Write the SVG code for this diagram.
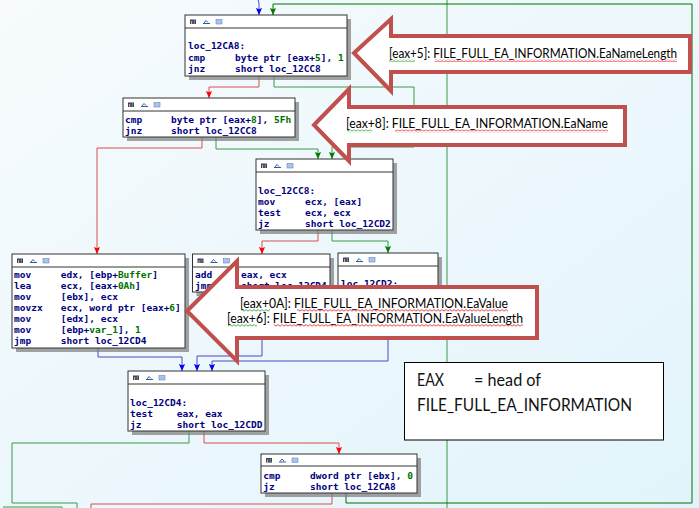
<svg xmlns="http://www.w3.org/2000/svg" width="699" height="508" viewBox="0 0 699 508">
<style>
.sh{fill:#7c7c7c;opacity:.7}
.bx{fill:#fff;stroke:#333;stroke-width:1}
.sep{stroke:#333;stroke-width:1}
.a{font-family:"DejaVu Sans Mono","Liberation Mono",monospace;font-size:9.5px;font-weight:bold;fill:#000080}
.n{fill:#007000}
.e{fill:none;stroke-width:1}
.r{stroke:#d65050}
.g{stroke:#3a9a48}
.b{stroke:#4a4ac0}
.call{fill:#fff;stroke:#c0504d;stroke-width:4;stroke-linejoin:miter}
.ct{font-family:Lato,"Liberation Sans",Arial,sans-serif;font-size:13.5px;fill:#000}
.ct1{font-size:12.6px}
.nt{font-family:Lato,"Liberation Sans",Arial,sans-serif;font-size:17px;fill:#111}
</style>
<defs>
<linearGradient id="bg" x1="0" y1="0" x2="1" y2="1">
<stop offset="0" stop-color="#f7fbfd"/>
<stop offset="1" stop-color="#e2f4fb"/>
</linearGradient>
<marker id="mr" viewBox="0 0 8 8" refX="8" refY="4" markerWidth="8" markerHeight="7" markerUnits="userSpaceOnUse" orient="auto"><path d="M0,0.5 L8,4 L0,7.5 L1.5,4 z" fill="#ff0000"/></marker>
<marker id="mg" viewBox="0 0 8 8" refX="8" refY="4" markerWidth="8" markerHeight="7" markerUnits="userSpaceOnUse" orient="auto"><path d="M0,0.5 L8,4 L0,7.5 L1.5,4 z" fill="#007a00"/></marker>
<marker id="mb" viewBox="0 0 8 8" refX="8" refY="4" markerWidth="8" markerHeight="7" markerUnits="userSpaceOnUse" orient="auto"><path d="M0,0.5 L8,4 L0,7.5 L1.5,4 z" fill="#0000ff"/></marker>
<symbol id="ic" overflow="visible">
<rect x="0" y="0.5" width="6" height="4.5" fill="#2a3f9a"/>
<rect x="1" y="2" width="1" height="3" fill="#f0c000"/>
<rect x="2.5" y="1.5" width="1" height="3.5" fill="#e03030"/>
<rect x="4" y="1" width="1" height="4" fill="#30b030"/>
<path d="M13,4.5 L20,4.5" stroke="#3a5a80" stroke-width="1"/>
<path d="M14,4 L16,1.5 L18,3.5" fill="none" stroke="#2060c0" stroke-width="1"/>
<rect x="26" y="0.5" width="6" height="4.5" fill="#a8c4ea" stroke="#6a88c4" stroke-width="0.6"/>
</symbol>
<pattern id="sqR" width="4" height="3" patternUnits="userSpaceOnUse"><polyline points="0,2.2 2,0.6 4,2.2" fill="none" stroke="#e02020" stroke-width="0.8"/></pattern>
<pattern id="sqG" width="4" height="3" patternUnits="userSpaceOnUse"><polyline points="0,2.2 2,0.6 4,2.2" fill="none" stroke="#20a020" stroke-width="0.8"/></pattern>
</defs>
<rect width="699" height="508" fill="url(#bg)"/>

<g id="connectors">
<path class="e" d="M447,0 L447,508" stroke="#3a9a48"/>
<path class="e b" d="M258,0 L259,3 L259,15" marker-end="url(#mb)"/>
<path class="e" d="M346,493 L346,503 L692,503 L692,4 L273,4 L273,15" stroke="#007000" stroke-width="1.7" marker-end="url(#mg)"/>
<path class="e r" d="M259,76 L259,87 L209,87 L209,98" marker-end="url(#mr)"/>
<path class="e g" d="M274,76 L274,87 L414,87 L414,147 L332,147 L332,159" marker-end="url(#mg)"/>
<path class="e g" d="M216,137 L216,149 L318,149 L318,159" marker-end="url(#mg)"/>
<path class="e r" d="M202,137 L202,148 L97,148 L97,254" marker-end="url(#mr)"/>
<path class="e r" d="M318,230 L318,241 L262,241 L262,254" marker-end="url(#mr)"/>
<path class="e g" d="M332,230 L332,241 L388,241 L388,253" marker-end="url(#mg)"/>
<path class="e b" d="M98,348 L98,357 L182,357 L182,371" marker-end="url(#mb)"/>
<path class="e b" d="M262,292 L262,356 L197,356 L197,371" marker-end="url(#mb)"/>
<path class="e b" d="M388,325 L388,361 L212,361 L212,371" marker-end="url(#mb)"/>
<path class="e g" d="M189,431 L189,443 L12,443 L12,503 L77,503 L77,508"/>
<path class="e g" d="M3,507 L62,507 L62,508"/>
<path class="e r" d="M204,431 L204,443 L339,443 L339,454" marker-end="url(#mr)"/>
<path class="e r" d="M332,493 L332,504 L91,504 L91,508"/>
</g>

<g id="n_12CA8">
<rect class="sh" x="189" y="19" width="162" height="61"/>
<rect class="bx" x="185" y="15" width="162" height="61"/>
<line class="sep" x1="185" y1="28" x2="347" y2="28"/>
<use href="#ic" x="190" y="19"/>
<text class="a" x="188" y="49">loc_12CA8:</text>
<text class="a" x="188" y="60.5">cmp</text><text class="a" x="235" y="60.5">byte ptr [eax+<tspan class="n">5</tspan>], <tspan class="n">1</tspan></text>
<text class="a" x="188" y="71.5">jnz</text><text class="a" x="235" y="71.5">short loc_12CC8</text>
</g>

<g id="n_cmp8">
<rect class="sh" x="127" y="102" width="172" height="39"/>
<rect class="bx" x="123" y="98" width="172" height="39"/>
<line class="sep" x1="123" y1="111" x2="295" y2="111"/>
<use href="#ic" x="128" y="102"/>
<text class="a" x="125" y="122.5">cmp</text><text class="a" x="171" y="122.5">byte ptr [eax+<tspan class="n">8</tspan>], <tspan class="n">5Fh</tspan></text>
<text class="a" x="125" y="133.5">jnz</text><text class="a" x="171" y="133.5">short loc_12CC8</text>
</g>

<g id="n_12CC8">
<rect class="sh" x="260" y="163" width="137" height="71"/>
<rect class="bx" x="256" y="159" width="137" height="71"/>
<line class="sep" x1="256" y1="172" x2="393" y2="172"/>
<use href="#ic" x="261" y="163"/>
<text class="a" x="258" y="193.5">loc_12CC8:</text>
<text class="a" x="258" y="205">mov</text><text class="a" x="305" y="205">ecx, [eax]</text>
<text class="a" x="258" y="216">test</text><text class="a" x="305" y="216">ecx, ecx</text>
<text class="a" x="258" y="227">jz</text><text class="a" x="305" y="227">short loc_12CD2</text>
</g>

<g id="n_buffer">
<rect class="sh" x="16" y="258" width="173" height="94"/>
<rect class="bx" x="12" y="254" width="173" height="94"/>
<line class="sep" x1="12" y1="267" x2="185" y2="267"/>
<use href="#ic" x="17" y="258"/>
<text class="a" x="14" y="277.5">mov</text><text class="a" x="60.7" y="277.5">edx, [ebp+<tspan class="n">Buffer</tspan>]</text>
<text class="a" x="14" y="288.5">lea</text><text class="a" x="60.7" y="288.5">ecx, [eax+<tspan class="n">0Ah</tspan>]</text>
<text class="a" x="14" y="299.5">mov</text><text class="a" x="60.7" y="299.5">[ebx], ecx</text>
<text class="a" x="14" y="310.5">movzx</text><text class="a" x="60.7" y="310.5">ecx, word ptr [eax+<tspan class="n">6</tspan>]</text>
<text class="a" x="14" y="321.5">mov</text><text class="a" x="60.7" y="321.5">[edx], ecx</text>
<text class="a" x="14" y="332.5">mov</text><text class="a" x="60.7" y="332.5">[ebp+<tspan class="n">var_1</tspan>], <tspan class="n">1</tspan></text>
<text class="a" x="14" y="343.5">jmp</text><text class="a" x="60.7" y="343.5">short loc_12CD4</text>
</g>

<g id="n_add">
<rect class="sh" x="196.5" y="258" width="137.5" height="38"/>
<rect class="bx" x="192.5" y="254" width="137.5" height="38"/>
<line class="sep" x1="192.5" y1="267" x2="330" y2="267"/>
<use href="#ic" x="197.5" y="258"/>
<text class="a" x="195" y="277.5">add</text><text class="a" x="241" y="277.5">eax, ecx</text>
<text class="a" x="195" y="288.5">jmp</text><text class="a" x="241" y="288.5">short loc_12CD4</text>
</g>

<g id="n_12CD2">
<rect class="sh" x="342" y="257" width="100" height="72"/>
<rect class="bx" x="338" y="253" width="100" height="72"/>
<line class="sep" x1="338" y1="266" x2="438" y2="266"/>
<use href="#ic" x="343" y="257"/>
<text class="a" x="341" y="287">loc_12CD2:</text>
</g>

<g id="n_12CD4">
<rect class="sh" x="132" y="375" width="137" height="60"/>
<rect class="bx" x="128" y="371" width="137" height="60"/>
<line class="sep" x1="128" y1="384" x2="265" y2="384"/>
<use href="#ic" x="133" y="375"/>
<text class="a" x="130" y="405.8">loc_12CD4:</text>
<text class="a" x="130" y="416.8">test</text><text class="a" x="176.7" y="416.8">eax, eax</text>
<text class="a" x="130" y="427.8">jz</text><text class="a" x="176.7" y="427.8">short loc_12CDD</text>
</g>

<g id="n_cmpebx">
<rect class="sh" x="265" y="458" width="156" height="39"/>
<rect class="bx" x="261" y="454" width="156" height="39"/>
<line class="sep" x1="261" y1="466" x2="417" y2="466"/>
<use href="#ic" x="266" y="457.5"/>
<text class="a" x="263.3" y="478.5">cmp</text><text class="a" x="310" y="478.5">dword ptr [ebx], <tspan class="n">0</tspan></text>
<text class="a" x="263.3" y="489.5">jz</text><text class="a" x="310" y="489.5">short loc_12CA8</text>
</g>

<g id="callout_1">
<polygon class="call" points="354,53 391,19 391,36 690,36 690,72 391,72 391,91"/>
<text class="ct ct1" x="389" y="57.5" textLength="288" lengthAdjust="spacingAndGlyphs">[eax+5]: FILE_FULL_EA_INFORMATION.EaNameLength</text>
<rect x="389" y="59" width="26" height="3" fill="url(#sqG)"/>
<rect x="435" y="59" width="242" height="3" fill="url(#sqR)"/>
</g>

<g id="callout_2">
<polygon class="call" points="314,125 349,89 349,107 625,107 625,145 349,145 349,161"/>
<text class="ct" x="346" y="128" textLength="262" lengthAdjust="spacingAndGlyphs">[eax+8]: FILE_FULL_EA_INFORMATION.EaName</text>
<rect x="347" y="129.5" width="25" height="3" fill="url(#sqG)"/>
<rect x="395" y="129.5" width="213" height="3" fill="url(#sqR)"/>
</g>

<g id="callout_3">
<polygon class="call" points="187,311 237,261 237,287 537,287 537,338 237,338 237,361"/>
<text class="ct" x="240" y="307.5" textLength="268" lengthAdjust="spacingAndGlyphs">[eax+0A]: FILE_FULL_EA_INFORMATION.EaValue</text>
<rect x="241" y="309" width="29" height="3" fill="url(#sqG)"/>
<rect x="297" y="309" width="211" height="3" fill="url(#sqR)"/>
<text class="ct" x="227" y="322.5" textLength="296" lengthAdjust="spacingAndGlyphs">[eax+6]: FILE_FULL_EA_INFORMATION.EaValueLength</text>
<rect x="228" y="324" width="29" height="3" fill="url(#sqG)"/>
<rect x="274" y="324" width="249" height="3" fill="url(#sqR)"/>
</g>

<g id="note">
<rect x="404.5" y="362.5" width="259" height="77.5" fill="#fff" stroke="#000" stroke-width="1"/>
<text class="nt" x="417" y="385.5" textLength="27" lengthAdjust="spacingAndGlyphs">EAX</text>
<text class="nt" x="474" y="385.5" textLength="67" lengthAdjust="spacingAndGlyphs">= head of</text>
<text class="nt" x="417" y="410.5" textLength="215" lengthAdjust="spacingAndGlyphs">FILE_FULL_EA_INFORMATION</text>
</g>
</svg>
